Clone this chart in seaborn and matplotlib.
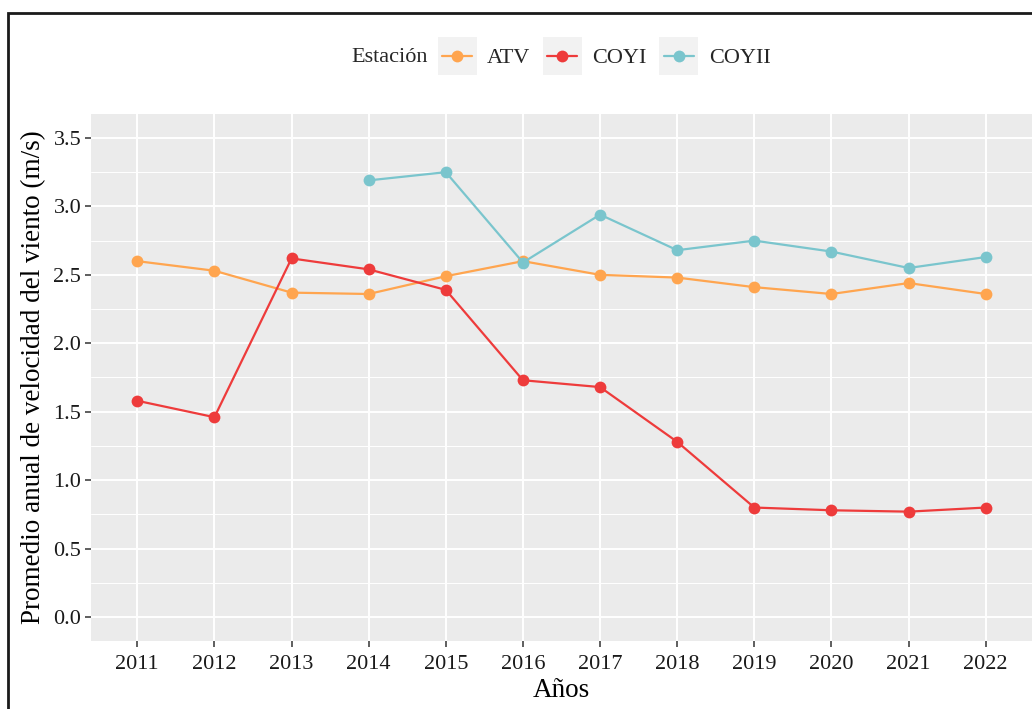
import numpy as np
import pandas as pd
import matplotlib
matplotlib.use("Agg")
import matplotlib.pyplot as plt
from matplotlib.patches import Rectangle
from matplotlib.ticker import MultipleLocator
import seaborn as sns

# Datos
years = [2011, 2012, 2013, 2014, 2015, 2016, 2017, 2018, 2019, 2020, 2021, 2022]
atv = [2.60, 2.53, 2.37, 2.36, 2.49, 2.60, 2.50, 2.48, 2.41, 2.36, 2.44, 2.36]
coyi = [1.58, 1.46, 2.62, 2.54, 2.39, 1.73, 1.68, 1.28, 0.80, 0.78, 0.77, 0.80]
coyii = [np.nan, np.nan, np.nan, 3.19, 3.25, 2.59, 2.94, 2.68, 2.75, 2.67, 2.55, 2.63]
stations = ["ATV", "COYI", "COYII"]
colors = ["#FFA54F", "#EE3B3B", "#7AC5CD"]

df = pd.DataFrame({"Año": years * 3,
                   "Estación": [s for s in stations for _ in years],
                   "valor": atv + coyi + coyii}).dropna()

sns.set_theme(style="darkgrid", rc={"axes.facecolor": "#EBEBEB", "grid.color": "white"})
plt.rcParams["font.family"] = ["Liberation Serif", "DejaVu Serif"]

fig = plt.figure(figsize=(10.32, 7.09), dpi=100)
ax = fig.add_axes([91 / 1032, 68 / 709, 1 - 91 / 1032, (641 - 114) / 709])

sns.lineplot(data=df, x="Año", y="valor", hue="Estación", hue_order=stations,
             palette=colors, marker="o", markersize=8.5, markeredgewidth=0,
             linewidth=1.6, ax=ax, legend=True)

ax.set_xlim(years[0] - 0.6, years[-1] + 0.6)
ax.set_ylim(-0.175, 3.675)
ax.set_xticks(years)
ax.set_yticks(np.arange(0, 3.51, 0.5))
ax.set_yticklabels([f"{v:.1f}" for v in np.arange(0, 3.51, 0.5)])
ax.yaxis.set_minor_locator(MultipleLocator(0.25))
ax.grid(which="major", color="white", linewidth=1.4)
ax.grid(which="minor", axis="y", color="white", linewidth=0.7)
ax.tick_params(which="major", length=4, width=1.1, color="#333333",
               labelsize=16, labelcolor="#1A1A1A", bottom=True, left=True)
ax.tick_params(axis="x", pad=6)
ax.tick_params(axis="y", pad=3)
ax.tick_params(which="minor", length=0)
for s in ax.spines.values():
    s.set_visible(False)
ax.set_xlabel("Años", fontsize=19.5, color="black", labelpad=3)
ax.set_ylabel("Promedio anual de velocidad del viento (m/s)", fontsize=19.5,
              color="black", labelpad=5)

handles, labels = ax.get_legend_handles_labels()
leg = ax.legend(handles, labels, ncol=3, loc="center left", frameon=False,
                bbox_to_anchor=(442 / 1032, 1 - 58 / 709), bbox_transform=fig.transFigure,
                fontsize=16, handlelength=1.35, handletextpad=0.68, columnspacing=0.76,
                borderpad=0, borderaxespad=0)
fig.text(428 / 1032, 1 - 58 / 709, "Estación", ha="right", va="center", fontsize=16)

fig.canvas.draw()
for h in leg.legend_handles:
    bb = h.get_window_extent()
    cx = (bb.x0 + bb.x1) / 2
    cy = (bb.y0 + bb.y1) / 2
    fig.patches.append(Rectangle((cx - 19.5, cy - 19), 39, 38, transform=None,
                                 facecolor="#F2F2F2", edgecolor="none", zorder=-1,
                                 figure=fig))

# Marco negro alrededor de la figura
fig.patches.append(Rectangle((8 / 1032, -0.1), 1.2, 1 - 13 / 709 + 0.1,
                             transform=fig.transFigure, fill=False,
                             edgecolor="#1A1A1A", linewidth=2, figure=fig))

fig.savefig("out.png", dpi=100, facecolor="white")
